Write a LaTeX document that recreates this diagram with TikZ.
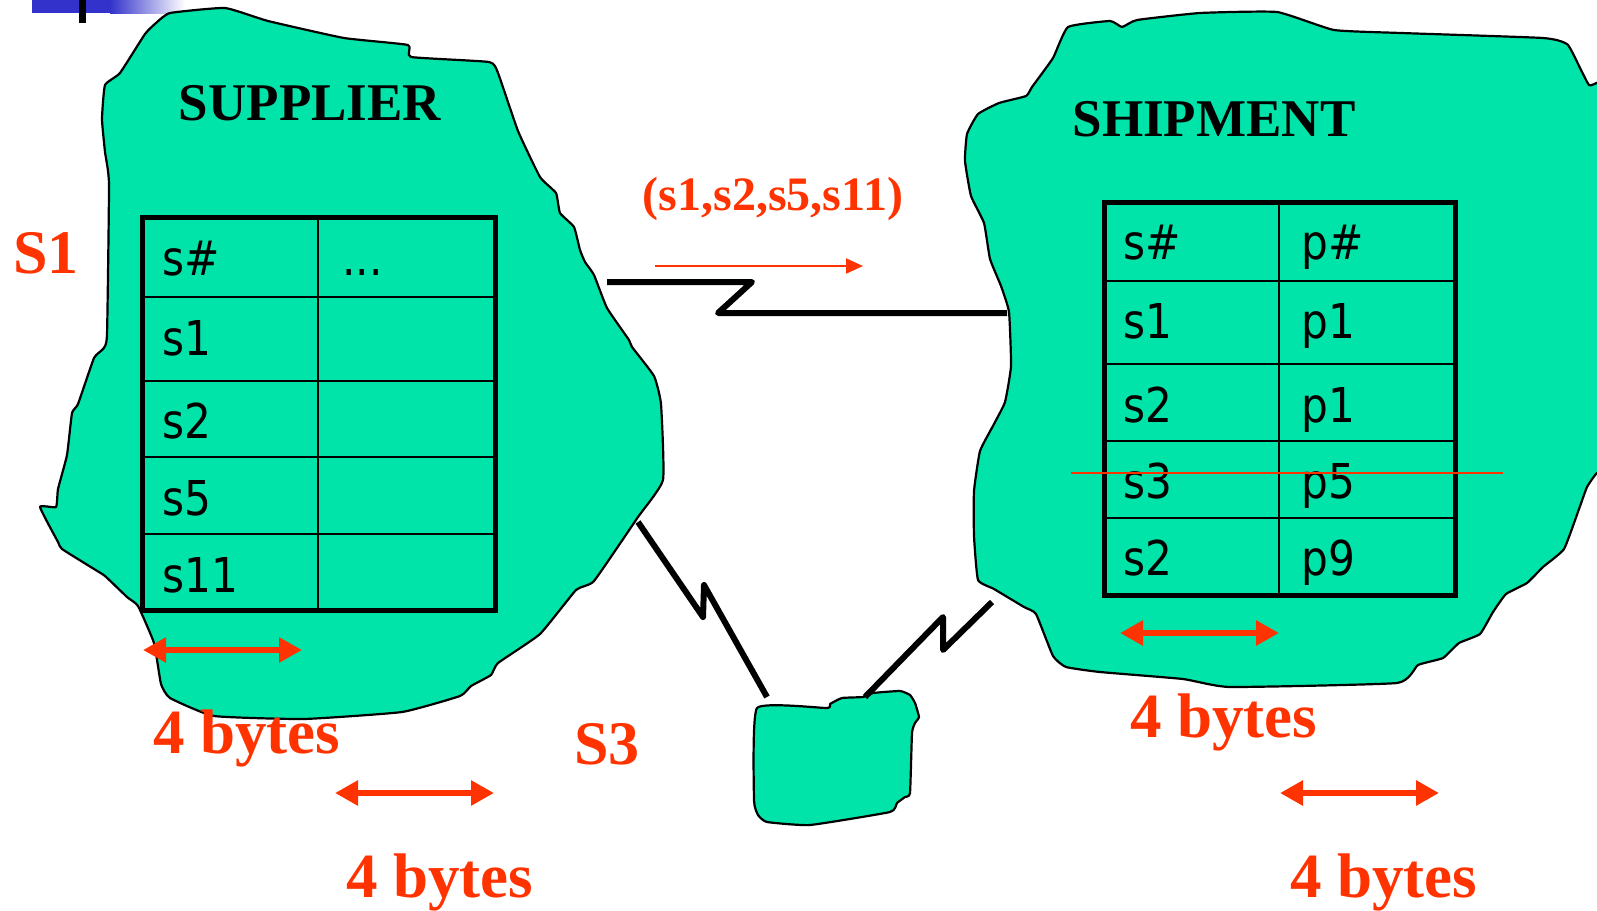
\documentclass[tikz,border=0pt]{standalone}
\usepackage{fontspec}
\setmainfont{Liberation Serif}
\newfontfamily\cellfont[FakeStretch=0.88]{DejaVu Sans}
\usetikzlibrary{arrows.meta}
\definecolor{sea}{RGB}{0,228,170}
\definecolor{flame}{RGB}{255,51,0}
\definecolor{slide}{RGB}{51,51,204}

\begin{document}
\begin{tikzpicture}[x=1pt,y=-1pt]
  \tikzstyle{site}=[draw=black,line width=2.2pt,fill=sea,line join=round]
  \tikzstyle{link}=[draw=black,line width=6pt,line join=round]
  \tikzstyle{title}=[font=\bfseries\fontsize{53}{53}\selectfont,anchor=base,inner sep=0pt]
  \tikzstyle{tag}=[text=flame,font=\bfseries\fontsize{62}{62}\selectfont,anchor=base,inner sep=0pt]
  \tikzstyle{bytes}=[text=flame,font=\bfseries\fontsize{63}{63}\selectfont,anchor=base west,inner sep=0pt]
  \tikzstyle{cell}=[font=\cellfont\fontsize{48}{48}\selectfont,anchor=base west,inner sep=0pt]
  \tikzstyle{span}=[draw=flame,line width=6pt,{Triangle[length=23pt,width=24pt]}-{Triangle[length=23pt,width=24pt]}]
  \useasboundingbox (0,0) rectangle (1597,910);

  % slide header
  \fill[slide] (32,0) rectangle (110,13);
  \shade[left color=slide,right color=white] (110,0) rectangle (185,13);
  \fill[black] (79,0) rectangle (86,23);

  % sites
  \draw[site] plot[smooth cycle,tension=0.25] coordinates {
    (170,13) (225,8) (268,21) (344,38) (408,45) (411,57) (489,62) (498,73)
    (518,131) (540,177) (556,193) (560,213) (574,227) (580,250) (585,262)
    (594,275) (607,308) (629,340) (632,347) (654,376) (661,404) (663,480)
    (638,517) (594,581) (576,590) (540,634) (498,663) (491,675) (471,686)
    (460,696) (402,712) (304,719) (214,716) (170,698) (161,684) (154,643)
    (138,606) (127,597) (105,576) (94,569) (62,549) (58,542) (40,507)
    (56,507) (58,489) (67,455) (72,413) (78,404) (94,358) (103,349)
    (107,335) (109,184) (105,152) (102,119) (105,85) (120,73) (145,34) (156,23)};
  \draw[site] plot[smooth cycle,tension=0.25] coordinates {
    (1068,27) (1110,21) (1122,27) (1137,20) (1200,13) (1277,12) (1334,30)
    (1401,33) (1543,38) (1568,45) (1589,85) (1612,95) (1612,470) (1597,473)
    (1587,487) (1579,509) (1564,549) (1543,567) (1527,583) (1506,594)
    (1493,612) (1480,634) (1459,643) (1443,658) (1418,665) (1397,683)
    (1230,687) (1183,679) (1100,672) (1066,667) (1053,656) (1036,614)
    (1024,607) (994,589) (978,580) (974,536) (974,491) (980,451) (994,424)
    (1005,402) (1011,366) (1009,312) (1001,286) (990,259) (984,223)
    (971,196) (965,161) (967,134) (978,114) (999,103) (1026,96) (1032,87)
    (1053,58)};
  \draw[site] plot[smooth cycle,tension=0.25] coordinates {
    (757,708) (827,708) (830,704) (842,698) (863,697) (873,693) (900,691)
    (910,695) (915,703) (919,717) (915,723) (912,733) (910,793) (905,797)
    (897,803) (890,812) (810,825) (767,822) (758,815) (754,800)};

  % supplier table
  \foreach \y in {297,381,457,534}
    \draw[line width=2.5pt] (142,\y) -- (495,\y);
  \draw[line width=2.5pt] (318,217) -- (318,610);
  \draw[line width=5pt] (142,217) rectangle (495,610);
  \foreach \t/\y [count=\i] in {s\#/275,s1/355,s2/438,s5/515,s11/592}
    \node[cell] (sk_\i) at (162,\y) {\t};
  \node[cell] (sdots) at (342,275) {...};

  % shipment table
  \foreach \y in {281,364,441,518}
    \draw[line width=2.5pt] (1104,\y) -- (1455,\y);
  \draw[line width=2.5pt] (1279,202) -- (1279,595);
  \draw[line width=5pt] (1104,202) rectangle (1455,595);
  \foreach \s/\p/\y [count=\i] in {s\#/p\#/259,s1/p1/338,s2/p1/422,s3/p5/498,s2/p9/575} {
    \node[cell] (hs_\i) at (1123,\y) {\s};
    \node[cell] (hp_\i) at (1301,\y) {\p};
  }
  \coordinate (del_w) at (1071,473);
  \coordinate (del_e) at (1503,473);
  \draw[flame,line width=2pt] (del_w) -- (del_e);

  \node[title] (supplier) at (310,120) {SUPPLIER};
  \node[title] (shipment) at (1214,136) {SHIPMENT};
  \node[tag] (s_1) at (46,273) {S1};
  \node[tag] (s_3) at (607,764) {S3};
  \node[text=flame,font=\bfseries\fontsize{48}{48}\selectfont,anchor=base,inner sep=0pt] (ids) at (773,210) {(s1,s2,s5,s11)};

  % links between sites
  \coordinate (sup_e) at (607,282);
  \coordinate (ship_w) at (1007,313);
  \coordinate (sup_s) at (638,522);
  \coordinate (s3_nw) at (767,697);
  \coordinate (s3_ne) at (865,697);
  \coordinate (ship_sw) at (992,602);
  \draw[link] (sup_e) -- ++(145,0) -- ++(-34,31) -- (ship_w);
  \draw[link] (sup_s) -- ++(65,95) -- ++(1,-32) -- (s3_nw);
  \draw[link] (s3_ne) -- ++(78,-80) -- ++(0,33) -- (ship_sw);

  \coordinate (m_1) at (655,266);
  \coordinate (m_2) at (863,266);
  \draw[flame,line width=2pt,-{Triangle[length=17pt,width=15pt]}] (m_1) -- (m_2);

  % field widths
  \foreach \x/\y [count=\i] in {143/650,335/793,1120/633,1280/793} {
    \coordinate (a_\i) at (\x,\y);
    \coordinate (b_\i) at (\x+159,\y);
    \draw[span] (a_\i) -- (b_\i);
  }
  \node[bytes] (w_1) at (153,753) {4 bytes};
  \node[bytes] (w_2) at (346,897) {4 bytes};
  \node[bytes] (w_3) at (1130,737) {4 bytes};
  \node[bytes] (w_4) at (1290,897) {4 bytes};
\end{tikzpicture}
\end{document}
